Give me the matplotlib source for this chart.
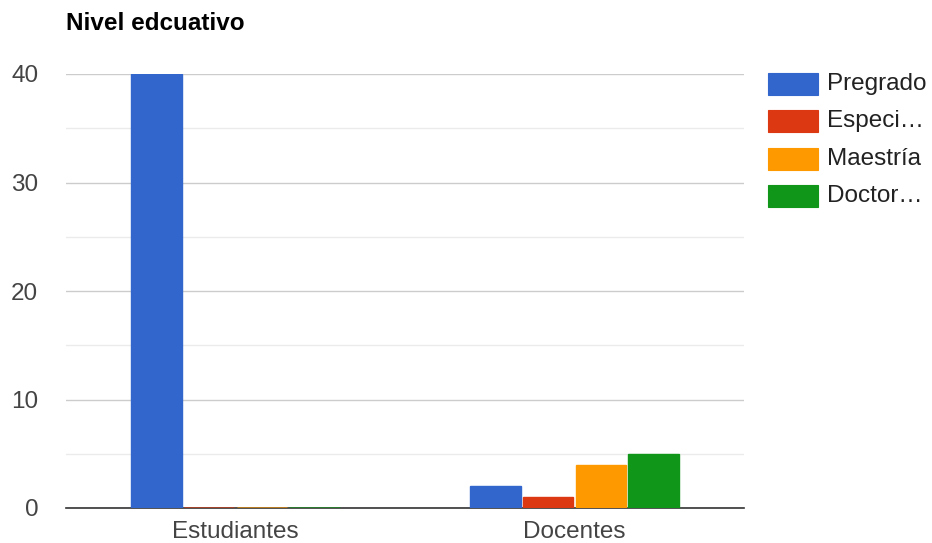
import matplotlib
matplotlib.use("Agg")
import matplotlib.pyplot as plt
from matplotlib.patches import Rectangle
import numpy as np

plt.rcParams['font.family'] = ['Liberation Sans', 'DejaVu Sans']

categories = ["Estudiantes", "Docentes"]
series_names = ["Pregrado", "Especi…", "Maestría", "Doctor…"]
values = {
    "Pregrado": [40, 2],
    "Especi…": [0, 1],
    "Maestría": [0, 4],
    "Doctor…": [0, 5],
}
colors = ["#3366cc", "#dc3912", "#ff9900", "#109618"]
yticks = [0, 10, 20, 30, 40]
title = "Nivel edcuativo"

W, H = 932, 543
fig = plt.figure(figsize=(W/100, H/100), dpi=100)
ax = fig.add_axes([66/W, 35/H, (744-66)/W, (508-74)/H])

x = np.arange(len(categories))
step = 0.156
bw = 0.15
n = len(series_names)
for i, (name, c) in enumerate(zip(series_names, colors)):
    offs = (i - (n - 1) / 2) * step
    vals = values[name]
    bars = ax.bar(x + offs, vals, width=bw, color=c, edgecolor=c, linewidth=1.0,
                  label=name, zorder=5)
    # zero-value bars appear as thin coloured lines on the baseline
    for p, v in zip(bars.patches, vals):
        if v == 0:
            ax.plot([p.get_x(), p.get_x() + p.get_width()], [v, v], color=c,
                    linewidth=2.0, alpha=0.55, zorder=6, solid_capstyle='butt')

ax.set_xlim(-0.5, 1.5)
ax.set_ylim(0, 40)
ax.set_yticks(yticks)
ax.set_yticks([5, 15, 25, 35], minor=True)
ax.grid(axis='y', which='major', color='#cccccc', linewidth=1, zorder=0)
ax.grid(axis='y', which='minor', color='#ebebeb', linewidth=1, zorder=0)
ax.set_xticks(x)
ax.set_xticklabels(categories)
for s in ['top', 'right', 'left']:
    ax.spines[s].set_visible(False)
ax.spines['bottom'].set_color('#333333')
ax.spines['bottom'].set_linewidth(1.2)
ax.spines['bottom'].set_zorder(4)
ax.tick_params(axis='both', which='both', length=0, labelsize=17.5, labelcolor='#444444')
ax.tick_params(axis='y', pad=20)
ax.tick_params(axis='x', pad=9)

fig.text(66/W, 1 - 23/H, title, fontsize=17.5, fontweight='bold', color='#000000',
         ha='left', va='center')

# legend
for i, (name, c) in enumerate(zip(series_names, colors)):
    yc = 84 + i * 37.3
    fig.patches.append(Rectangle((768/W, 1 - (yc + 11)/H), 50/W, 22/H,
                                 transform=fig.transFigure, facecolor=c,
                                 edgecolor=c, linewidth=0.8))
    fig.text(827/W, 1 - yc/H, name, fontsize=17.5, color='#222222',
             ha='left', va='center')

fig.savefig("out.png", dpi=100, facecolor='white')
